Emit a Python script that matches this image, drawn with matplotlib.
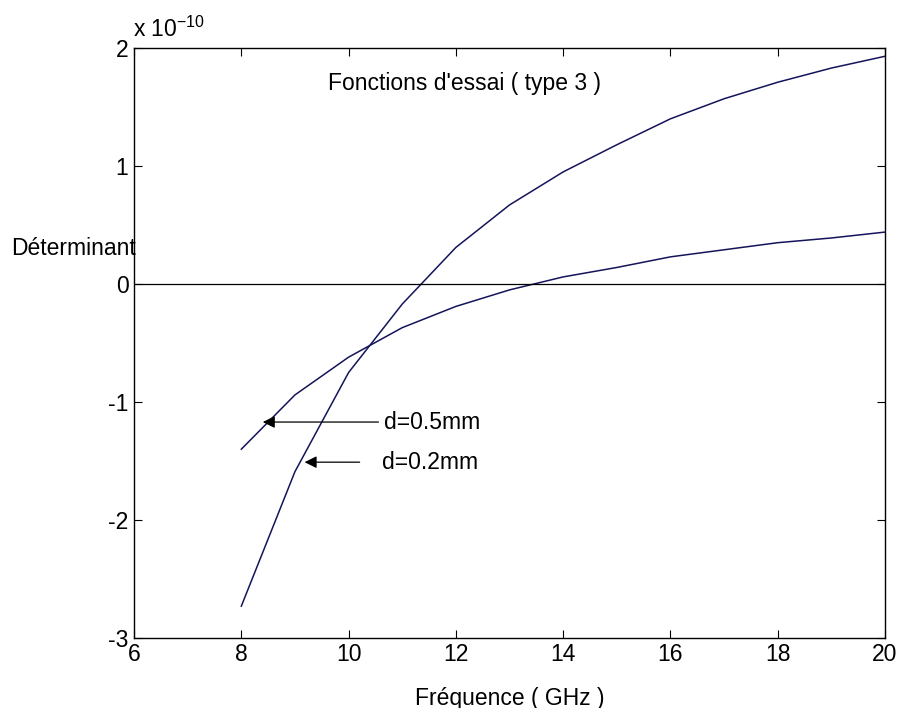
import matplotlib
matplotlib.use("Agg")
import matplotlib.pyplot as plt

plt.rcParams['font.family'] = ['Liberation Sans', 'DejaVu Sans']

freq = [8, 9, 10, 11, 12, 13, 14, 15, 16, 17, 18, 19, 20]
det_02 = [-2.73, -1.59, -0.75, -0.17, 0.31, 0.67, 0.95, 1.18, 1.40, 1.57, 1.71, 1.83, 1.93]
det_05 = [-1.40, -0.94, -0.62, -0.37, -0.19, -0.05, 0.06, 0.14, 0.23, 0.29, 0.35, 0.39, 0.44]
xticks = [6, 8, 10, 12, 14, 16, 18, 20]
yticks = [-3, -2, -1, 0, 1, 2]

FS = 16.5
fig = plt.figure(figsize=(9.02, 7.08), dpi=100)
ax = fig.add_axes([0.1486, 0.0989, 0.8326, 0.8333])
col = '#14145a'
ax.plot(freq, det_02, color=col, lw=1.1)
ax.plot(freq, det_05, color=col, lw=1.1)
ax.axhline(0, color='black', lw=0.9)

ax.set_xlim(6, 20)
ax.set_ylim(-3, 2)
ax.set_xticks(xticks)
ax.set_yticks(yticks)
ax.set_xticklabels([str(t) for t in xticks])
ax.set_yticklabels([str(t) for t in yticks])
ax.tick_params(direction='in', top=True, right=True, labelsize=FS, length=6, width=0.8)
ax.tick_params(axis='x', pad=3.5)
ax.tick_params(axis='y', pad=4)
for s in ax.spines.values():
    s.set_linewidth(1.0)

ax.set_xlabel('Fréquence ( GHz )', fontsize=FS, labelpad=15)
ax.text(0.002, 0.661, 'Déterminant', transform=ax.transAxes, ha='right', va='center', fontsize=FS)
ax.text(-0.001, 1.019, r'x 10$^{\mathregular{-10}}$', transform=ax.transAxes, ha='left', va='baseline', fontsize=FS)

ax.text(9.61, 1.70, "Fonctions d'essai ( type 3 )", fontsize=FS, ha='left', va='center')

ax.annotate('d=0.5mm', xy=(8.40, -1.17), xytext=(10.66, -1.17), fontsize=FS, va='center', ha='left',
            arrowprops=dict(arrowstyle='-|>', color='black', lw=0.9, shrinkA=2, shrinkB=0, mutation_scale=18))
ax.annotate('d=0.2mm', xy=(9.18, -1.51), xytext=(10.62, -1.51), fontsize=FS, va='center', ha='left',
            arrowprops=dict(arrowstyle='-|>', color='black', lw=0.9, shrinkA=14, shrinkB=0, mutation_scale=18))

fig.savefig('out.png', dpi=100)
